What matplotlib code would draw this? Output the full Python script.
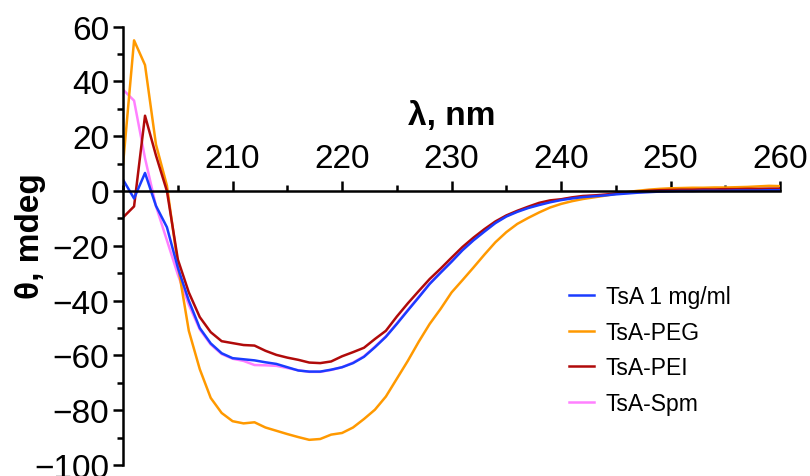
import numpy as np
from matplotlib import pyplot as plt
from matplotlib.ticker import MultipleLocator

# data ----------------------------------------
wavelength = np.arange(200, 261)

tsa = [4.1, -2.7, 6.6, -5.4, -13.2, -28, -40, -50, -55.6, -59.2,
       -61, -61.4, -61.8, -62.5, -63.1, -64.3, -65.5, -65.9, -65.9, -65.2,
       -64.3, -62.8, -60.5, -57, -53.2, -48.5, -43.6, -38.8, -33.9, -29.8,
       -25.8, -21.6, -18, -14.8, -11.7, -9.3, -7.6, -6.2, -5.1, -4.1,
       -3.3, -2.7, -2.2, -1.9, -1.6, -1.2, -0.9, -0.6, -0.4, -0.2,
       -0.1, 0.0, 0.0, 0.1, 0.1, 0.1, 0.2, 0.2, 0.2, 0.3, 0.3]

tsa_peg = [10, 55, 46, 17, 2, -27, -51, -65, -75.5, -81,
           -84, -84.8, -84.4, -86.3, -87.5, -88.7, -89.8, -90.8, -90.5, -88.9,
           -88.3, -86.3, -83.2, -79.8, -75, -68.5, -62, -55, -48.5, -43,
           -37, -32.5, -27.9, -23.2, -18.7, -15, -12, -9.8, -7.8, -6,
           -4.7, -3.7, -2.9, -2.3, -1.7, -1.0, -0.4, 0.1, 0.5, 0.8,
           1.0, 1.1, 1.2, 1.2, 1.3, 1.3, 1.4, 1.5, 1.7, 1.9, 1.8]

tsa_pei = [-9.6, -5.6, 27.5, 13, 0, -25, -37, -46, -51.5, -54.8,
           -55.5, -56.2, -56.4, -58.3, -59.8, -60.8, -61.6, -62.6, -62.8, -62.2,
           -60.3, -58.8, -57.2, -54, -51, -45.8, -41, -36.5, -32.1, -28.3,
           -24.3, -20.4, -17, -13.9, -11.1, -8.9, -7.2, -5.7, -4.3, -3.4,
           -3.0, -2.3, -1.8, -1.6, -1.3, -0.9, -0.5, -0.2, 0.1, 0.3,
           0.4, 0.5, 0.5, 0.6, 0.6, 0.7, 0.7, 0.8, 0.8, 0.9, 0.9]

tsa_spm = [37, 33, 12, -5.5, -18, -30.5, -41.5, -50.5, -56, -59.5,
           -61.2, -62, -63.5, -63.6, -63.8, -64.6, -65.4, -66, -66, -65.3,
           -64.3, -62.6, -60.3, -56.8, -53, -48.3, -43.4, -38.6, -33.7, -29.6,
           -25.6, -21.4, -17.8, -14.6, -11.5, -9.1, -7.4, -6.0, -4.9, -3.9,
           -3.1, -2.5, -2.0, -1.7, -1.4, -1.0, -0.7, -0.4, -0.2, 0.0,
           0.1, 0.2, 0.2, 0.3, 0.3, 0.3, 0.4, 0.4, 0.4, 0.5, 0.5]

xticks = [210, 220, 230, 240, 250, 260]
yticks = [60, 40, 20, 0, -20, -40, -60, -80, -100]

# plot ----------------------------------------
plt.rcParams['font.family'] = ['Liberation Sans', 'DejaVu Sans']

fig = plt.figure(figsize=(8.1, 4.77), dpi=100)
ax = fig.add_axes([0.152, 0.023, 0.811, 0.919])

l4, = ax.plot(wavelength, tsa_spm, color='#ff80ff', lw=1.8, label='TsA-Spm')
l2, = ax.plot(wavelength, tsa_peg, color='#ff9900', lw=1.8, label='TsA-PEG')
l3, = ax.plot(wavelength, tsa_pei, color='#b00a0a', lw=1.8, label='TsA-PEI')
l1, = ax.plot(wavelength, tsa, color='#1a3cff', lw=1.8, label='TsA 1 mg/ml')

ax.set_xlim(200, 260)
ax.set_ylim(-100, 60)

# x axis through zero, labels above it
ax.spines['bottom'].set_visible(False)
ax.spines['right'].set_visible(False)
ax.spines['top'].set_position(('data', 0))
ax.spines['top'].set_linewidth(1.8)
ax.spines['left'].set_linewidth(1.8)
ax.xaxis.tick_top()

ax.set_xticks(xticks)
ax.xaxis.set_minor_locator(MultipleLocator(5))
ax.set_yticks(yticks)
ax.yaxis.set_minor_locator(MultipleLocator(10))
ax.tick_params(axis='both', which='major', labelsize=24, width=1.8, length=7)
ax.tick_params(axis='both', which='minor', width=1.8, length=4.5)
ax.tick_params(axis='x', which='major', pad=5)
ax.tick_params(axis='y', which='major', pad=3)

ax.text(230, 27.5, 'λ, nm', fontsize=24, fontweight='bold', ha='center', va='center')
fig.text(30 / 810, 1 - 236 / 477, 'θ, mdeg', fontsize=24, fontweight='bold',
         rotation=90, ha='center', va='center')

ax.legend(handles=[l1, l2, l3, l4], loc='upper left', frameon=False,
          bbox_to_anchor=(569 / 810, 1 - 286 / 477), bbox_transform=fig.transFigure,
          fontsize=16.5, handlelength=1.1, handletextpad=0.5, labelspacing=0.55,
          borderpad=0, borderaxespad=0)

plt.savefig('out.png', dpi=100)
